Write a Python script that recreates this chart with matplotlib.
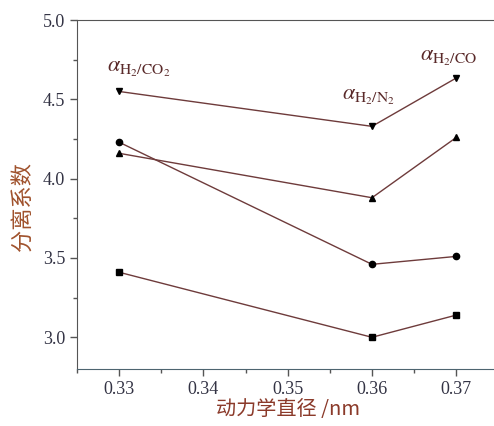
import numpy as np
import matplotlib
matplotlib.use('Agg')
import matplotlib.pyplot as plt
from matplotlib.ticker import MultipleLocator

plt.rcParams['font.family'] = ['Liberation Serif', 'Noto Sans CJK SC', 'DejaVu Sans']
plt.rcParams['mathtext.fontset'] = 'stix'

# Data
diam = [0.33, 0.36, 0.37]
h2_co2 = [4.55, 4.33, 4.635]
h2_n2_up = [4.16, 3.88, 4.26]
circle = [4.23, 3.46, 3.51]
square = [3.41, 3.00, 3.14]

labels = [r'$\alpha_{\mathrm{H_2/CO_2}}$', r'$\alpha_{\mathrm{H_2/N_2}}$', r'$\alpha_{\mathrm{H_2/CO}}$']
label_pos = [(0.3286, 4.69), (0.3565, 4.51), (0.3657, 4.76)]

line_c = '#6e3b3b'
fig = plt.figure(figsize=(4.94, 4.26), dpi=100)
ax = fig.add_axes([0.1559, 0.1338, 0.853, 0.819])

ax.plot(diam, h2_co2, color=line_c, lw=1.0, marker='v', ms=5, mfc='black', mec='black')
ax.plot(diam, h2_n2_up, color=line_c, lw=1.0, marker='^', ms=5, mfc='black', mec='black')
ax.plot(diam, circle, color=line_c, lw=1.0, marker='o', ms=4.5, mfc='black', mec='black')
ax.plot(diam, square, color=line_c, lw=1.0, marker='s', ms=4, mfc='black', mec='black')

for t, (x, y) in zip(labels, label_pos):
    ax.text(x, y, t, fontsize=16, color='#5a2a2a', ha='left', va='center')

ax.set_xlim(0.325, 0.375)
ax.set_ylim(2.8, 5.0)
ax.xaxis.set_minor_locator(MultipleLocator(0.005))
ax.yaxis.set_minor_locator(MultipleLocator(0.25))
ax.set_xticks([0.33, 0.34, 0.35, 0.36, 0.37])
ax.set_xticklabels(['0.33', '0.34', '0.35', '0.36', '0.37'])
ax.set_yticks([3.0, 3.5, 4.0, 4.5, 5.0])
ax.set_yticklabels(['3.0', '3.5', '4.0', '4.5', '5.0'])

ax.tick_params(which='major', direction='out', length=5, width=1, colors='#555555',
               labelsize=13, labelcolor='#333344')
ax.tick_params(which='minor', direction='out', length=3, width=1, colors='#555555')
ax.tick_params(axis='x', which='both', top=False)
ax.tick_params(axis='y', which='both', right=False)

for s in ['left', 'top']:
    ax.spines[s].set_color('#555555')
ax.spines['right'].set_visible(False)
ax.spines['bottom'].set_color('#4d6470')

ax.set_xlabel('动力学直径 /nm', fontsize=14.5, color='#8b3a2a',
              family=['Noto Sans CJK SC', 'Liberation Serif'], labelpad=1)
ax.set_ylabel('分离系数', fontsize=16, color='#a0522d',
              family=['Noto Sans CJK SC', 'Liberation Serif'])
ax.yaxis.set_label_coords(-0.10, 0.467)

fig.savefig('out.png', dpi=100)
